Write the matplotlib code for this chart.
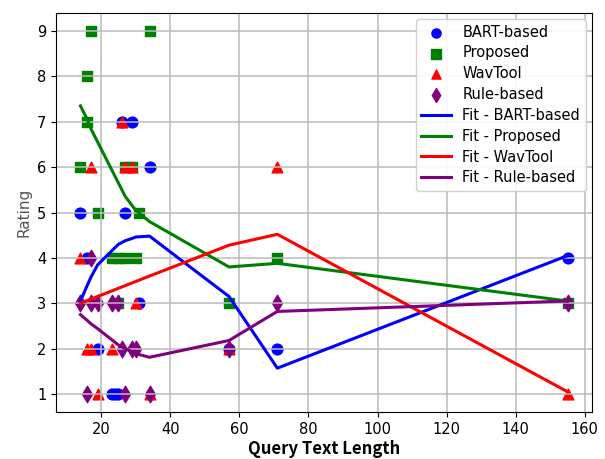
import matplotlib
matplotlib.use("Agg")
import matplotlib.pyplot as plt

# scatter points: (query text length, rating)
bart_x = [14, 16, 19, 23, 24, 25, 26, 27, 29, 31, 34, 57, 71, 155]
bart_y = [5, 4, 2, 1, 1, 1, 7, 5, 7, 3, 6, 2, 2, 4]

proposed_x = [14, 16, 16, 17, 19, 23, 25, 27, 30, 25, 27, 29, 31, 34, 57, 71, 155]
proposed_y = [6, 8, 7, 9, 5, 4, 4, 4, 4, 3, 6, 6, 5, 9, 3, 4, 3]

wavtool_x = [14, 16, 17, 17, 19, 23, 26, 27, 29, 30, 34, 57, 71, 155]
wavtool_y = [4, 2, 2, 6, 1, 2, 7, 6, 6, 3, 1, 2, 6, 1]

rule_x = [14, 17, 19, 23, 25, 17, 16, 26, 29, 30, 27, 34, 57, 71, 155]
rule_y = [3, 3, 3, 3, 3, 4, 1, 2, 2, 2, 1, 1, 2, 3, 3]

# fitted curves, read at the distinct lengths
fit_x = [14, 16, 17, 19, 23, 25, 27, 29, 30, 34, 57, 71, 155]
fit_bart = [3.05, 3.4, 3.57, 3.85, 4.15, 4.3, 4.38, 4.43, 4.46, 4.48, 3.15, 1.57, 4.05]
fit_proposed = [7.35, 7.05, 6.85, 6.55, 5.95, 5.65, 5.35, 5.15, 5.05, 4.8, 3.8, 3.88, 3.05]
fit_wavtool = [3.0, 3.06, 3.09, 3.15, 3.27, 3.33, 3.39, 3.45, 3.48, 3.6, 4.28, 4.52, 1.05]
fit_rule = [2.75, 2.62, 2.55, 2.44, 2.2, 2.08, 2.0, 1.93, 1.89, 1.81, 2.18, 2.82, 3.05]

fig = plt.figure(figsize=(6.05, 4.59), dpi=100)
ax = fig.add_axes([0.093, 0.102, 0.885, 0.870])

ax.scatter(bart_x, bart_y, color="blue", marker="o", s=60, label="BART-based")
ax.scatter(proposed_x, proposed_y, color="green", marker="s", s=60, label="Proposed")
ax.scatter(wavtool_x, wavtool_y, color="red", marker="^", s=60, label="WavTool")
ax.scatter(rule_x, rule_y, color="purple", marker="d", s=70, label="Rule-based")

ax.plot(fit_x, fit_bart, color="blue", lw=2.2, label="Fit - BART-based")
ax.plot(fit_x, fit_proposed, color="green", lw=2.2, label="Fit - Proposed")
ax.plot(fit_x, fit_wavtool, color="red", lw=2.2, label="Fit - WavTool")
ax.plot(fit_x, fit_rule, color="purple", lw=2.2, label="Fit - Rule-based")

ax.set_xlim(7, 162)
ax.set_ylim(0.6, 9.4)
ax.set_xticks([20, 40, 60, 80, 100, 120, 140, 160])
ax.set_yticks(range(1, 10))
ax.tick_params(labelsize=10.5)
ax.grid(True, color="#bbbbbb", lw=1.1)

ax.set_xlabel("Query Text Length", family=["Noto Sans CJK JP", "DejaVu Sans"],
              fontweight="bold", fontsize=12, labelpad=2)
ax.set_ylabel("Rating", color="#555555", fontsize=11)

ax.legend(loc="upper right", fontsize=10.5, framealpha=0.9, markerscale=0.85,
          labelspacing=0.4, borderaxespad=0.4)

fig.savefig("out.png", dpi=100)
